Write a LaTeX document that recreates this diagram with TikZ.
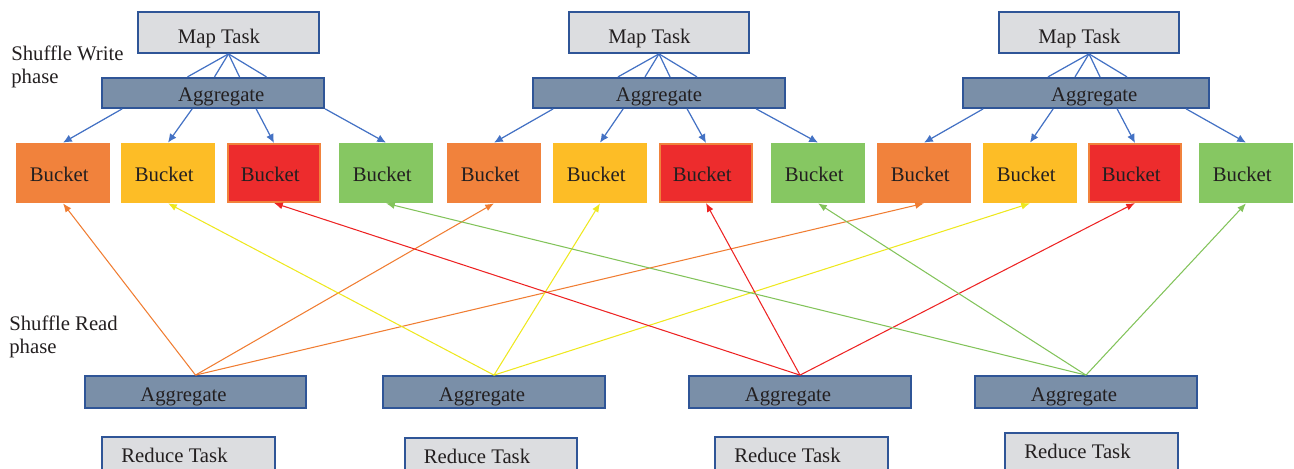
\documentclass[tikz,border=0pt]{standalone}
\usepackage{fontspec}
\setmainfont{Liberation Serif}
\usetikzlibrary{arrows.meta,calc,positioning}
\definecolor{edgeblue}{RGB}{47,85,151}
\definecolor{linkblue}{RGB}{68,114,196}
\definecolor{taskgray}{RGB}{220,221,224}
\definecolor{agggray}{RGB}{122,143,168}
\definecolor{inkgray}{RGB}{35,31,32}
\definecolor{bkorange}{RGB}{241,130,60}
\definecolor{bkyellow}{RGB}{253,189,38}
\definecolor{bkred}{RGB}{237,44,45}
\definecolor{bkgreen}{RGB}{134,199,98}
\definecolor{rdorange}{RGB}{240,125,50}
\definecolor{rdyellow}{RGB}{238,232,30}
\definecolor{rdred}{RGB}{237,35,35}
\definecolor{rdgreen}{RGB}{130,195,90}
\tikzset{
    task/.style = {draw=edgeblue, fill=taskgray, rectangle,
        line width=1.3pt, inner sep=0pt,
        text height=12pt, text depth=0pt,
        minimum height=0.81cm},
    agg/.style = {draw=edgeblue, fill=agggray, rectangle,
        line width=1.3pt, inner sep=0pt,
        text height=10pt, text depth=0pt,
        minimum height=0.59cm},
    bucket/.style = {rectangle, inner sep=0pt,
        text height=10pt, text depth=0pt,
        minimum width=1.88cm,
        minimum height=1.2cm, nudge left=0.15cm},
    orange bucket/.style = {fill=bkorange},
    yellow bucket/.style = {fill=bkyellow},
    red bucket/.style = {fill=bkred, draw=bkorange, line width=0.9pt,
        minimum width=1.85cm, minimum height=1.17cm},
    green bucket/.style = {fill=bkgreen},
    nudge left/.style = {execute at end node={\hspace*{#1}}},
    nudge right/.style = {execute at begin node={\hspace*{#1}}},
    link/.style = {draw=linkblue, line width=0.7pt},
    arrow/.style = {link, -{Latex[length=5pt,width=4.5pt]}},
    rd/.style = {line width=0.6pt, -{Latex[length=5pt,width=4pt]}},
    phase/.style = {align=left, anchor=north west, inner sep=0pt}
}

\begin{document}
\begin{tikzpicture}[x=0.02cm, y=-0.02cm, font=\fontsize{11.8}{12.6}\selectfont, text=inkgray]
    \clip (0,0) rectangle (1294,469);

    \node[phase] (wlabel) at (11,46) {Shuffle Write\\phase};
    \node[phase] (rlabel) at (9,316) {Shuffle Read\\phase};

    \foreach \x/\c [count=\i] in {63/orange,168/yellow,274/red,386/green,
        494/orange,600/yellow,706/red,818/green,
        924/orange,1030/yellow,1135/red,1246/green}
        \node[bucket, \c\space bucket] (b\i) at (\x,173) {Bucket};

    % map side
    \foreach \g/\mx/\ax/\aw/\an in {1/228.5/213/4.43/0.33cm, 2/659/659/5.03/0cm, 3/1089/1086/4.91/0.33cm} {
        \node[task, minimum width=3.61cm, nudge left=0.38cm] (m\g) at (\mx,32.5) {Map Task};
        \node[agg, minimum width=\aw cm, nudge right=\an] (a\g) at (\ax,93) {Aggregate};
        \foreach \d in {-41,-14,11,38}
            \draw[link] (m\g.south) -- ++(\d,23);
        \foreach \d [count=\k] in {21,91,155,224} {
            \pgfmathtruncatemacro\n{4*\g-4+\k}
            \draw[arrow] ($(a\g.south west)+(\d,0)$) -- (b\n.north);
        }
    }

    % reduce side
    \foreach \x/\rx/\ry [count=\i] in {195.5/188.5/456, 494/491/457, 800/801.5/456, 1086/1091.5/452} {
        \node[agg, minimum width=4.43cm, minimum height=0.63cm,
            text height=11pt, nudge left=0.48cm] (ra\i) at (\x,392) {Aggregate};
        \node[task, minimum width=3.45cm, minimum height=0.75cm,
            text height=7pt, nudge left=0.56cm] (rt\i) at (\rx,\ry) {Reduce Task};
    }
    \foreach \g/\c in {1/orange,2/yellow,3/red,4/green}
        \foreach \k in {0,4,8} {
            \pgfmathtruncatemacro\n{\g+\k}
            \draw[rd, draw=rd\c] (ra\g.north) -- (b\n.south);
        }
\end{tikzpicture}
\end{document}
